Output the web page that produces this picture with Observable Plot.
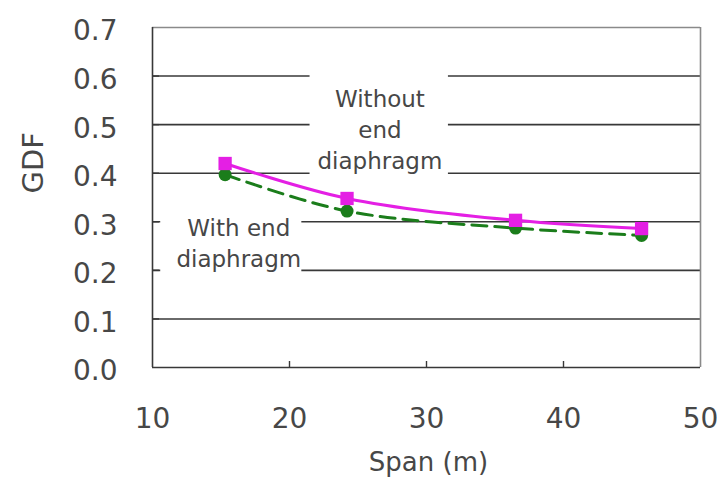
<!DOCTYPE html>
<html>
<head>
<meta charset="utf-8">
<script src="https://cdn.jsdelivr.net/npm/d3@7"></script>
<script src="https://cdn.jsdelivr.net/npm/@observablehq/plot@0.6"></script>
<style>
  html, body { margin: 0; padding: 0; background: #fff; }
</style>
</head>
<body>
<div id="chart"></div>
<script>
// Girder distribution factor (GDF) versus span length
const span = [15.3, 24.2, 36.5, 45.7];
const gdfWithout = [0.42, 0.348, 0.303, 0.286];   // without end diaphragm
const gdfWith = [0.397, 0.322, 0.287, 0.272];     // with end diaphragm

const xTicks = [10, 20, 30, 40, 50];
const yTicks = [0, 0.1, 0.2, 0.3, 0.4, 0.5, 0.6, 0.7];
const gridLevels = [0.1, 0.2, 0.3, 0.4, 0.5, 0.6];

// In-plot annotations (anchor in data units) and the white panels behind them
const noteText = ["Without\nend\ndiaphragm", "With end\ndiaphragm"];
const noteX = [26.6, 16.3];
const noteY = [0.493, 0.259];
const noteX1 = [21.5, 10.6];
const noteX2 = [31.6, 20.9];
const noteY1 = [0.375, 0.18];
const noteY2 = [0.63, 0.32];

const rowsWithout = span.map((s, i) => ({span: s, gdf: gdfWithout[i]}));
const rowsWith = span.map((s, i) => ({span: s, gdf: gdfWith[i]}));
const notes = noteText.map((t, i) => ({
  text: t, x: noteX[i], y: noteY[i],
  x1: noteX1[i], x2: noteX2[i], y1: noteY1[i], y2: noteY2[i]
}));

const magenta = "#e41fe4";
const green = "#1b7d1b";
const ink = "#474747";

const chart = Plot.plot({
  width: 717,
  height: 492,
  marginLeft: 152,
  marginRight: 17,
  marginTop: 27,
  marginBottom: 125,
  style: {fontFamily: "DejaVu Sans", background: "#fff", color: ink},
  x: {domain: [10, 50]},
  y: {domain: [0, 0.7]},
  marks: [
    Plot.ruleY(gridLevels, {stroke: "#383838", strokeWidth: 1.6}),
    Plot.ruleY([0.7], {stroke: "#8a8a8a", strokeWidth: 1.6}),
    Plot.ruleX([50], {stroke: "#8a8a8a", strokeWidth: 1.6}),
    Plot.rect(notes, {x1: "x1", x2: "x2", y1: "y1", y2: "y2", fill: "#fff"}),
    Plot.ruleX([10], {stroke: "#383838", strokeWidth: 1.6}),
    Plot.ruleY([0], {stroke: "#383838", strokeWidth: 1.6}),
    Plot.axisX({ticks: [20, 30, 40], tickSize: -6, text: null, stroke: "#383838", strokeWidth: 1.4}),
    Plot.axisY({ticks: gridLevels, tickSize: -7, text: null, stroke: "#383838", strokeWidth: 1.4}),
    Plot.line(rowsWith, {x: "span", y: "gdf", stroke: green, strokeWidth: 3, strokeDasharray: "15,8", curve: "catmull-rom"}),
    Plot.line(rowsWithout, {x: "span", y: "gdf", stroke: magenta, strokeWidth: 3, curve: "catmull-rom"}),
    Plot.dot(rowsWith, {x: "span", y: "gdf", r: 6.5, fill: green, symbol: "circle"}),
    Plot.dot(rowsWithout, {x: "span", y: "gdf", r: 7.5, fill: magenta, symbol: "square"}),
    Plot.text(notes, {x: "x", y: "y", text: "text", fontSize: 23, lineHeight: 1.35, fill: ink}),
    Plot.axisX({ticks: xTicks, tickSize: 0, tickPadding: 41, fontSize: 28, label: null, fill: ink}),
    Plot.axisY({ticks: yTicks, tickSize: 0, tickPadding: 35, fontSize: 28, tickFormat: d3.format(".1f"), label: null, dy: 4, fill: ink}),
    Plot.text(["Span (m)"], {frameAnchor: "bottom", dy: 103, dx: 2, fontSize: 26, fill: ink}),
    Plot.text(["GDF"], {frameAnchor: "left", dx: -119, dy: -4, rotate: -90, fontSize: 29, fill: ink})
  ]
});

document.getElementById("chart").appendChild(chart);
</script>
</body>
</html>
